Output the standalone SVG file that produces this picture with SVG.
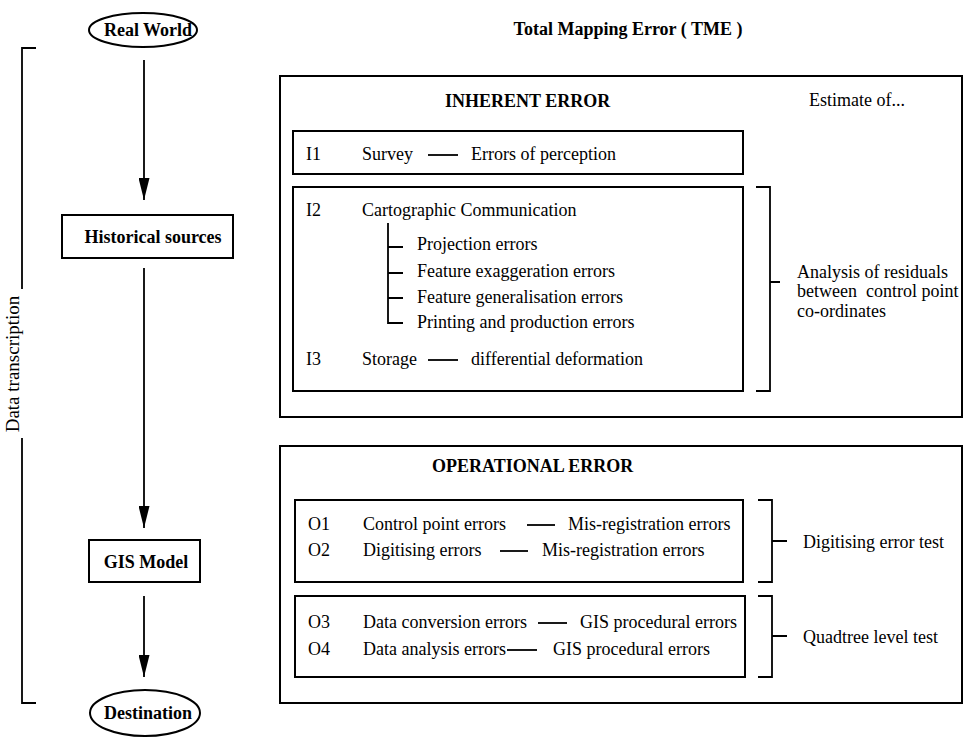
<svg xmlns="http://www.w3.org/2000/svg" width="966" height="744" viewBox="0 0 966 744">
<style>
text{font-family:"Liberation Serif","Times New Roman",serif;font-size:18px;fill:#000}
.b{font-weight:bold}
.m{text-anchor:middle}
.box{fill:none;stroke:#000;stroke-width:2}
.ln{fill:none;stroke:#000;stroke-width:1.8}
</style>
<defs>
<marker id="ah" markerUnits="userSpaceOnUse" markerWidth="22" markerHeight="11" refX="22" refY="5.5" orient="auto">
<path d="M0,0 L22,5.5 L0,11 z" fill="#000"/>
</marker>
</defs>
<rect width="966" height="744" fill="#fff"/>

<g id="connectors">
<line class="ln" x1="144" y1="60" x2="144" y2="200" marker-end="url(#ah)"/>
<line class="ln" x1="144" y1="268" x2="144" y2="528" marker-end="url(#ah)"/>
<line class="ln" x1="144" y1="596" x2="144" y2="677" marker-end="url(#ah)"/>
</g>

<g id="real-world">
<ellipse class="box" cx="143" cy="30" rx="54" ry="17"/>
<text class="b m" x="148" y="36">Real World</text>
</g>
<g id="historical-sources">
<rect class="box" x="62" y="215" width="171" height="43"/>
<text class="b m" x="153" y="243">Historical sources</text>
</g>
<g id="gis-model">
<rect class="box" x="89" y="540" width="111" height="42"/>
<text class="b m" x="146" y="568">GIS Model</text>
</g>
<g id="destination">
<ellipse class="box" cx="145" cy="713" rx="55" ry="23"/>
<text class="b m" x="148" y="719">Destination</text>
</g>

<g id="data-transcription">
<path class="ln" d="M36,48 H22 V289 M22,438 V703 H36"/>
<text class="m" transform="translate(19,364) rotate(-90)" style="font-size:19px">Data transcription</text>
</g>

<text id="title" class="b m" x="628" y="35">Total Mapping Error ( TME )</text>

<g id="inherent-error">
<rect class="box" x="280" y="76" width="682" height="341"/>
<text class="b" x="445" y="107">INHERENT ERROR</text>
<text x="809" y="106">Estimate of...</text>
</g>
<g id="i1">
<rect class="box" x="293" y="131" width="450" height="43"/>
<text x="306" y="160">I1</text>
<text x="362" y="160">Survey</text>
<line class="ln" x1="428" y1="155" x2="458" y2="155"/>
<text x="471" y="160">Errors of perception</text>
</g>
<g id="i2">
<rect class="box" x="293" y="187" width="450" height="204"/>
<text x="306" y="216">I2</text>
<text x="362" y="216">Cartographic Communication</text>
<path class="ln" d="M388,223 V323 H403 M388,247 H403 M388,273 H403 M388,298 H403"/>
<text x="417" y="250">Projection errors</text>
<text x="417" y="277">Feature exaggeration errors</text>
<text x="417" y="303">Feature generalisation errors</text>
<text x="417" y="328">Printing and production errors</text>
<text x="306" y="365">I3</text>
<text x="362" y="365">Storage</text>
<line class="ln" x1="428" y1="360" x2="458" y2="360"/>
<text x="471" y="365">differential deformation</text>
</g>
<g id="residuals">
<path class="ln" d="M756,187 H770 V391 H756 M770,282 H780"/>
<text x="797" y="278">Analysis of residuals</text>
<text x="797" y="297">between&#160; control point</text>
<text x="797" y="317">co-ordinates</text>
</g>

<g id="operational-error">
<rect class="box" x="280" y="446" width="682" height="257"/>
<text class="b" x="432" y="472">OPERATIONAL ERROR</text>
</g>
<g id="o12">
<rect class="box" x="295" y="500" width="448" height="82"/>
<text x="308" y="530">O1</text>
<text x="363" y="530">Control point errors</text>
<line class="ln" x1="527" y1="525" x2="555" y2="525"/>
<text x="568" y="530">Mis-registration errors</text>
<text x="308" y="556">O2</text>
<text x="363" y="556">Digitising errors</text>
<line class="ln" x1="500" y1="551" x2="528" y2="551"/>
<text x="542" y="556">Mis-registration errors</text>
</g>
<g id="o34">
<rect class="box" x="295" y="596" width="450" height="81"/>
<text x="308" y="628">O3</text>
<text x="363" y="628">Data conversion errors</text>
<line class="ln" x1="538" y1="623" x2="567" y2="623"/>
<text x="580" y="628">GIS procedural errors</text>
<text x="308" y="655">O4</text>
<text x="363" y="655">Data analysis errors</text>
<line class="ln" x1="507" y1="650" x2="537" y2="650"/>
<text x="553" y="655">GIS procedural errors</text>
</g>
<g id="digitising-test">
<path class="ln" d="M758,500 H772 V582 H758 M772,541 H787"/>
<text x="803" y="548">Digitising error test</text>
</g>
<g id="quadtree-test">
<path class="ln" d="M758,596 H772 V677 H758 M772,636 H787"/>
<text x="803" y="643">Quadtree level test</text>
</g>
</svg>
